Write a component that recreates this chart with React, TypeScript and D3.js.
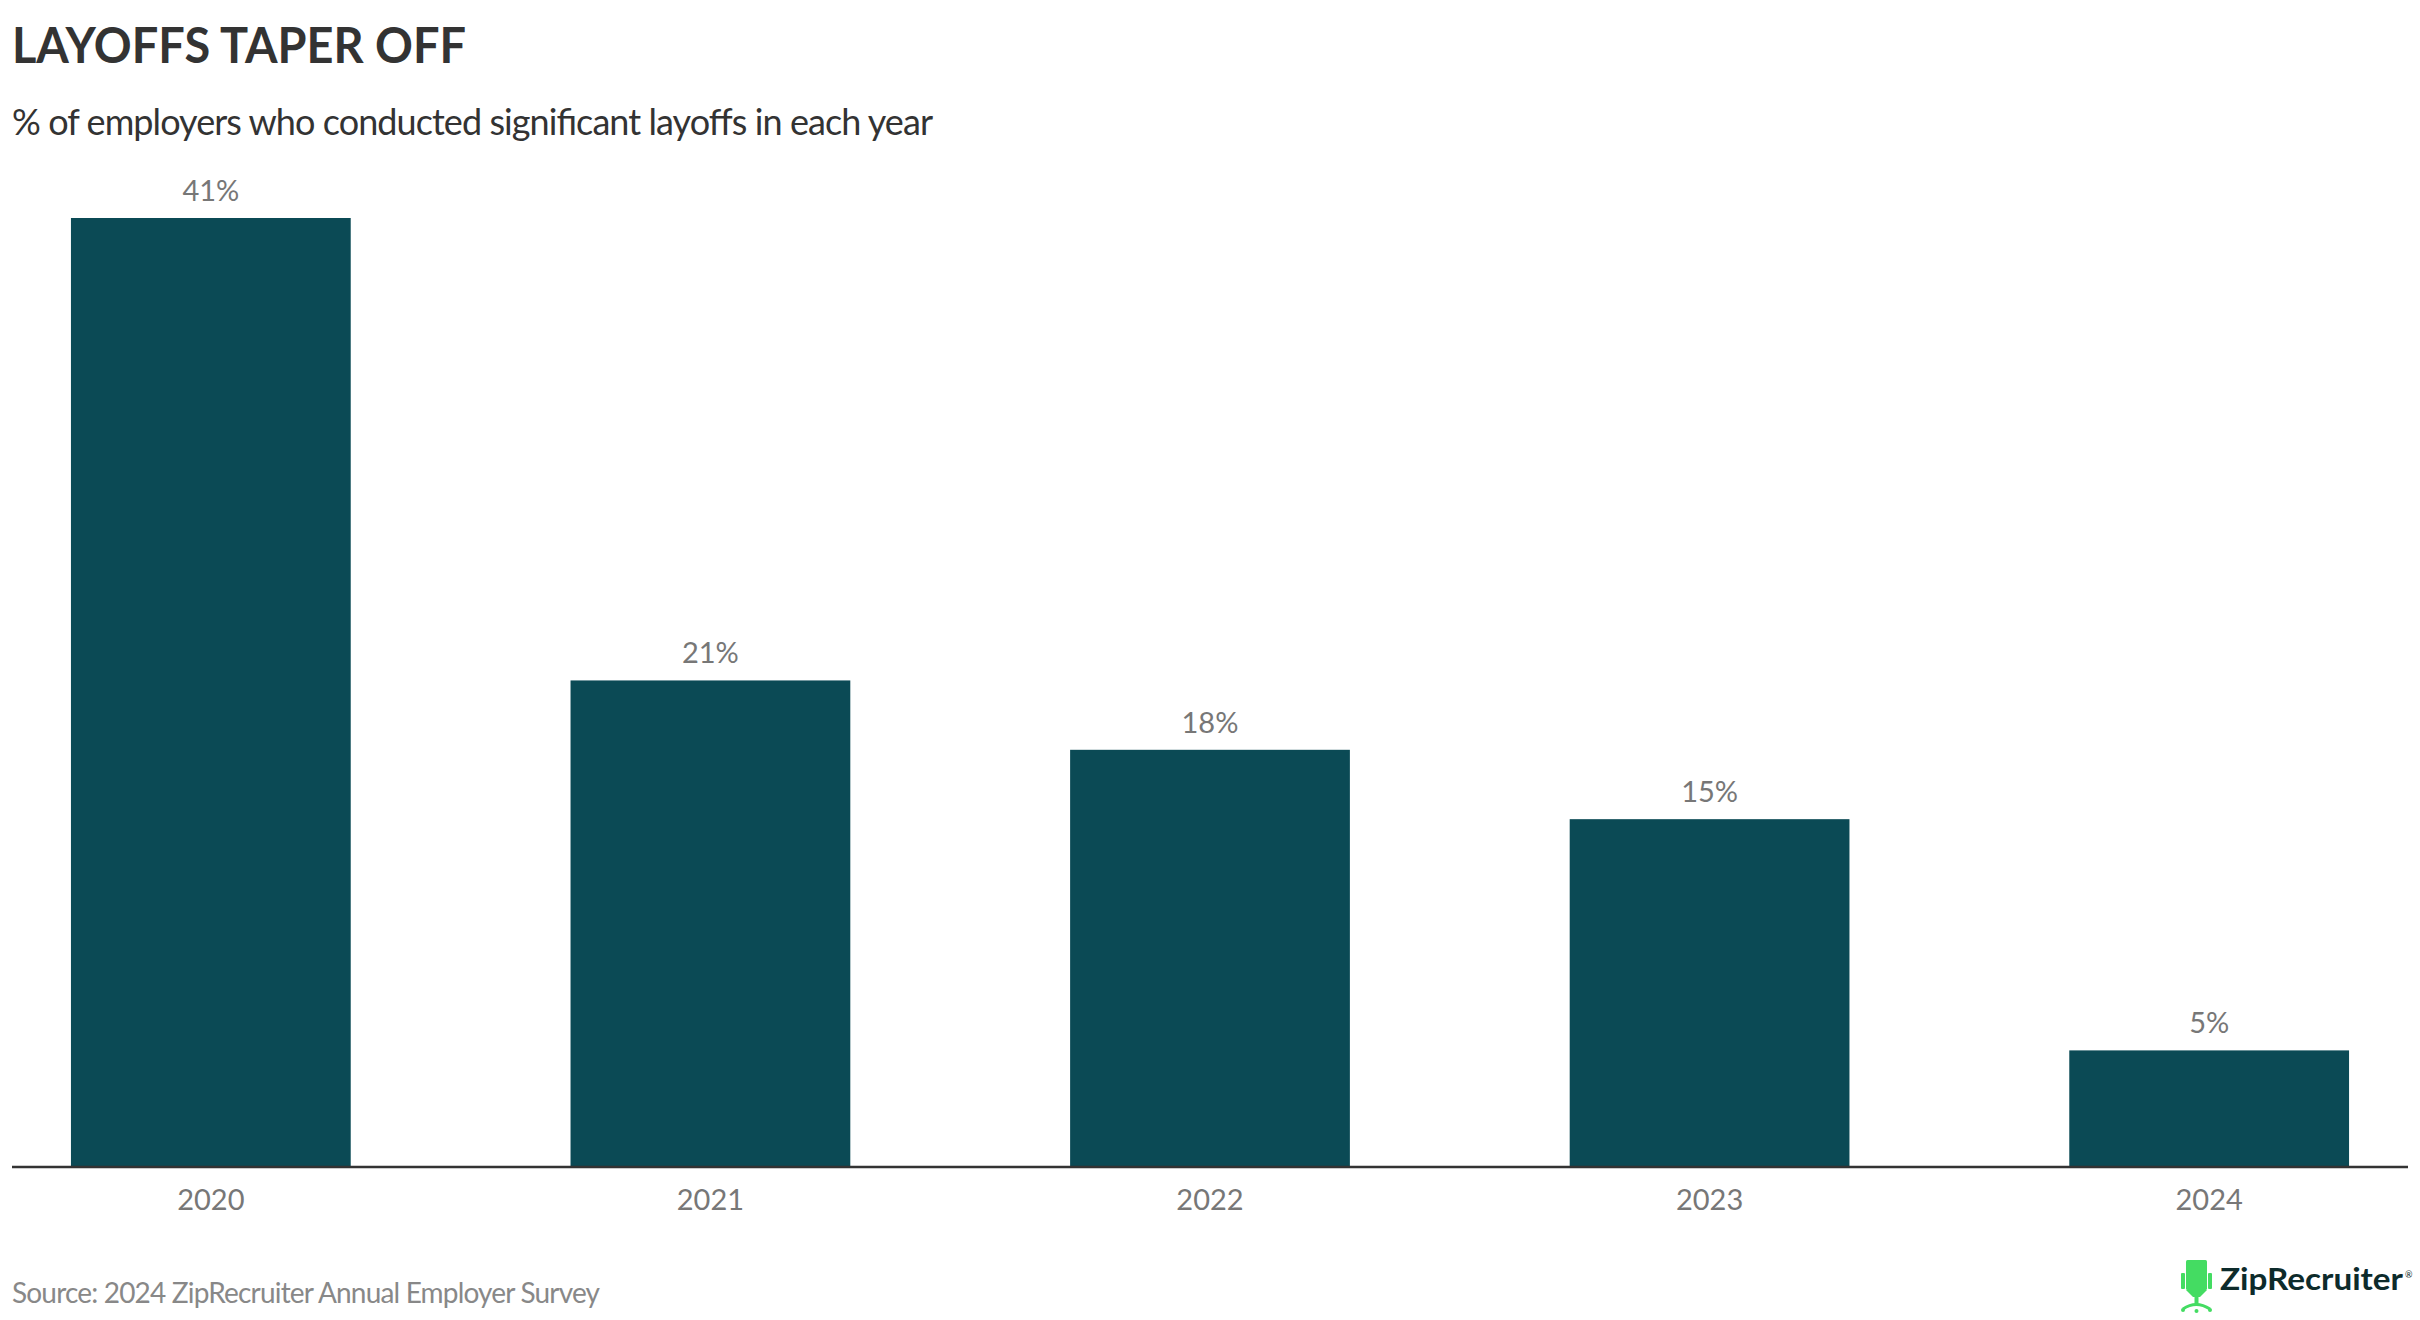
import React from "react";
import * as d3 from "d3";

const years = ["2020", "2021", "2022", "2023", "2024"];
const shares = [41, 21, 18, 15, 5];

const title = "LAYOFFS TAPER OFF";
const subtitle = "% of employers who conducted significant layoffs in each year";
const source = "Source: 2024 ZipRecruiter Annual Employer Survey";

const W = 2420;
const H = 1320;
const FONT = "Lato, 'Noto Sans', sans-serif";

const App = () => {
  const x = d3
    .scaleBand<string>()
    .domain(years)
    .range([12, 2408])
    .paddingInner(0.44)
    .paddingOuter(0.118);

  const y = d3.scaleLinear().domain([0, 41]).range([1166, 218]);

  const rows = years.map((year, i) => ({ year, value: shares[i] }));

  return (
    <div style={{ position: "fixed", left: 0, top: 0, background: "#fff" }}>
      <svg width={W} height={H} style={{ display: "block" }} fontFamily={FONT}>
        <rect width={W} height={H} fill="#fff" />
        <text
          x={12}
          y={63}
          fontSize={49}
          fontWeight={700}
          fill="#333"
          textLength={454}
          lengthAdjust="spacingAndGlyphs"
        >
          {title}
        </text>
        <text
          x={12}
          y={135}
          fontSize={36}
          fill="#333"
          textLength={921}
          lengthAdjust="spacing"
        >
          {subtitle}
        </text>

        {rows.map((d) => (
          <g key={d.year}>
            <rect
              x={x(d.year)}
              y={y(d.value)}
              width={x.bandwidth()}
              height={y(0) - y(d.value)}
              fill="#0b4a55"
            />
            <text
              x={(x(d.year) as number) + x.bandwidth() / 2}
              y={y(d.value) - 17}
              textAnchor="middle"
              fontSize={29}
              fill="#777"
            >
              {d.value}%
            </text>
            <text
              x={(x(d.year) as number) + x.bandwidth() / 2}
              y={1210}
              textAnchor="middle"
              fontSize={29}
              fill="#777"
            >
              {d.year}
            </text>
          </g>
        ))}

        {/* baseline */}
        <line x1={12} x2={2408} y1={y(0) + 1} y2={y(0) + 1} stroke="#333" strokeWidth={2.5} />

        <text
          x={12}
          y={1303}
          fontSize={28}
          fill="#888"
          textLength={588}
          lengthAdjust="spacing"
        >
          {source}
        </text>

        {/* logo */}
        <g fill="#44dc62">
          <rect x={2186} y={1260} width={21} height={30} rx={1.5} />
          <rect x={2181} y={1273} width={4} height={16} rx={1} />
          <rect x={2208} y={1273} width={4} height={16} rx={1} />
          <path d="M2186,1290 L2207,1290 L2200,1297 L2193,1297 Z" />
          <rect x={2194.5} y={1297} width={4} height={8} />
          <path
            d="M2183,1309 Q2196,1300 2210,1309"
            fill="none"
            stroke="#44dc62"
            strokeWidth={3}
          />
          <circle cx={2183} cy={1310} r={2} />
          <circle cx={2210} cy={1310} r={2} />
          <circle cx={2196.5} cy={1311} r={2} />
        </g>
        <text
          x={2220}
          y={1290}
          fontSize={30}
          fontWeight={700}
          fill="#0d2b2b"
          textLength={183}
          lengthAdjust="spacingAndGlyphs"
        >
          ZipRecruiter
        </text>
        <text x={2405} y={1278} fontSize={9} fill="#0d2b2b">
          ®
        </text>
      </svg>
    </div>
  );
};

export default App;
